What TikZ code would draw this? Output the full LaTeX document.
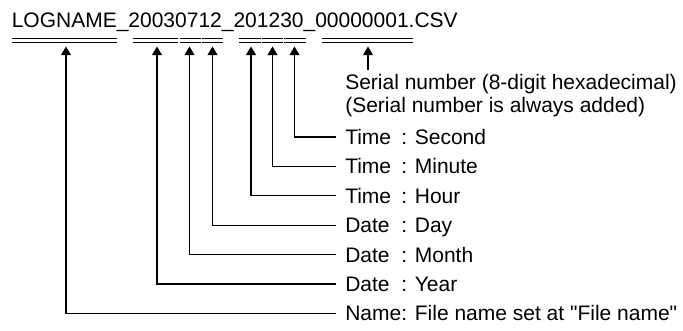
\documentclass[tikz,border=0pt]{standalone}
\usepackage{fontspec}
\setmainfont{Liberation Sans}[Ligatures=TeXOff]
\usetikzlibrary{arrows.meta}
\newcommand{\fld}[2]{\rlap{#1}\phantom{Name}: #2}
\begin{document}
\begin{tikzpicture}[x=0.75pt,y=-0.75pt,
  txt/.style={inner sep=0pt,font=\fontsize{15.75}{17.25}\selectfont},
  lbl/.style={txt,anchor=west,text height=11.28pt,text depth=0pt},
  ul/.style={line width=1.1pt},
  arr/.style={line width=0.8pt,-{Triangle[length=6.5pt,width=7.5pt]}}]
\useasboundingbox (0,0) rectangle (683,331);

% file name
\node[txt,anchor=base west] (title) at (11.5,28) {LOGNAME\_20030712\_201230\_00000001.CSV};

% double underlines
\foreach \a/\b in {12/117,133/178,179.5/200.5,201.5/223,239/261,262/283,284/306,322/412.5}{
  \draw[ul] (\a,38.5) -- (\b,38.5) (\a,42.5) -- (\b,42.5);
}

% arrow tips under each field
\coordinate (tN)   at (66,46.5);
\coordinate (tY)   at (157,46.5);
\coordinate (tMo)  at (189.5,46.5);
\coordinate (tD)   at (212.5,46.5);
\coordinate (tH)   at (251,46.5);
\coordinate (tMi)  at (272.5,46.5);
\coordinate (tS)   at (294.5,46.5);
\coordinate (tSer) at (368,46.5);

% labels
\node[txt,anchor=base west] (ser1) at (345,90) {Serial number (8-digit hexadecimal)};
\node[txt,anchor=base west] (ser2) at (345,113) {(Serial number is always added)};
\node[lbl] (lS)  at (345,137)   {\fld{Time}{Second}};
\node[lbl] (lMi) at (345,166.4) {\fld{Time}{Minute}};
\node[lbl] (lH)  at (345,195.8) {\fld{Time}{Hour}};
\node[lbl] (lD)  at (345,225.2) {\fld{Date}{Day}};
\node[lbl] (lMo) at (345,254.6) {\fld{Date}{Month}};
\node[lbl] (lY)  at (345,284)   {\fld{Date}{Year}};
\node[lbl] (lN)  at (345,313.4) {Name: File name set at "File name"};

% connectors
\coordinate (sE) at (368,70);
\draw[arr] (sE) -- (tSer);
\foreach \l/\t in {lS/tS,lMi/tMi,lH/tH,lD/tD,lMo/tMo,lY/tY,lN/tN}{
  \draw[arr] ([xshift=-7pt]\l.west) -| (\t);
}
\end{tikzpicture}
\end{document}
